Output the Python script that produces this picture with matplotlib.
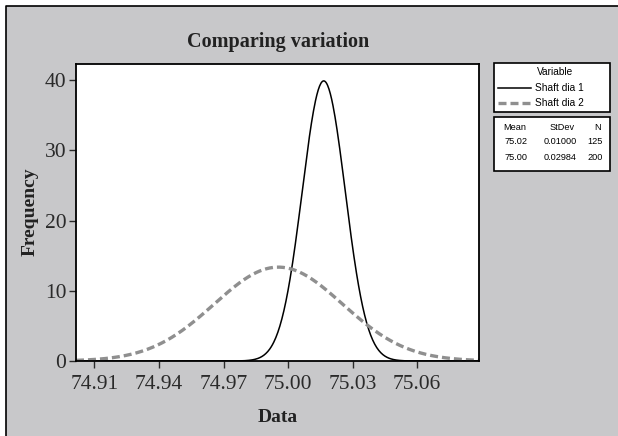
import numpy as np
import matplotlib
matplotlib.use("Agg")
import matplotlib.pyplot as plt
from matplotlib.patches import Rectangle
from matplotlib.lines import Line2D

# summary values shown in the legend table
names = ["Shaft dia 1", "Shaft dia 2"]
means = [75.0166, 74.9955]
stdevs = [0.01000, 0.02984]
counts = [125, 200]
mean_labels = ["75.02", "75.00"]
sd_labels = ["0.01000", "0.02984"]

x_ticks = [74.91, 74.94, 74.97, 75.00, 75.03, 75.06]
y_ticks = [0, 10, 20, 30, 40]

W, H = 618, 436
def fp(x, y):
    return (x / W, 1 - y / H)

fig = plt.figure(figsize=(W / 100, H / 100), dpi=100)
fig.patch.set_facecolor("white")
# gray panel, only its left and top borders are inside the picture
fig.add_artist(Rectangle(fp(6, H), (W - 6) / W, (H - 6) / H,
                         transform=fig.transFigure, facecolor="#c8c8ca",
                         edgecolor="none", zorder=-10))
fig.add_artist(Line2D([6 / W, 6 / W, 1], [0, 1 - 6 / H, 1 - 6 / H],
                      transform=fig.transFigure, color="black", lw=1.2))

ax = fig.add_axes([76 / W, 1 - 361 / H, (479 - 76) / W, (361 - 64) / H])
ax.set_facecolor("white")

xs = np.linspace(74.9014, 75.0888, 600)
styles = [dict(color="black", lw=1.1, ls="-"),
          dict(color="#8f8f8f", lw=2.4, ls=(0, (2.4, 1.2)))]
for m, s, st in zip(means, stdevs, styles):
    ys = np.exp(-0.5 * ((xs - m) / s) ** 2) / (s * np.sqrt(2 * np.pi))
    ax.plot(xs, ys, **st)

ax.set_xlim(74.9014, 75.0888)
ax.set_ylim(0, 42.3)
ax.set_xticks(x_ticks)
ax.set_xticklabels(["%.2f" % v for v in x_ticks])
ax.set_yticks(y_ticks)
for sp in ax.spines.values():
    sp.set_linewidth(1.3)
ax.tick_params(direction="out", length=5, width=1, pad=2, labelsize=15.5,
               colors="#2a2a2a")
ax.tick_params(axis="x", pad=5)
for lab in ax.get_xticklabels() + ax.get_yticklabels():
    lab.set_family("Liberation Serif")

serif = "Liberation Serif"
fig.text(*fp(278, 42), "Comparing variation", ha="center", va="center",
         family=serif, weight="bold", fontsize=14.5, color="#222222")
fig.text(*fp(278, 417), "Data", ha="center", va="center",
         family=serif, weight="bold", fontsize=14, color="#222222")
fig.text(*fp(30, 212), "Frequency", ha="center", va="center", rotation=90,
         family=serif, weight="bold", fontsize=14, color="#222222")

# legend boxes
for y0, y1 in [(63, 112), (117, 171)]:
    fig.add_artist(Rectangle(fp(494, y1), 116 / W, (y1 - y0) / H,
                             transform=fig.transFigure, facecolor="white",
                             edgecolor="black", lw=1.2))
sans = "Liberation Sans"
fs = 7.3
fig.text(*fp(555, 72), "Variable", ha="center", va="center", family=sans, fontsize=fs)
for i, (nm, st) in enumerate(zip(names, styles)):
    yy = 88 + 15 * i
    fig.add_artist(Line2D([498 / W, 531 / W], [1 - yy / H, 1 - yy / H],
                          transform=fig.transFigure, **st))
    fig.text(*fp(535, yy), nm, ha="left", va="center", family=sans, fontsize=fs)

ft = 6.6
fig.text(*fp(515, 127), "Mean", ha="center", va="center", family=sans, fontsize=ft)
fig.text(*fp(562, 127), "StDev", ha="center", va="center", family=sans, fontsize=ft)
fig.text(*fp(598, 127), "N", ha="center", va="center", family=sans, fontsize=ft)
for i in range(2):
    yy = 142 + 15 * i
    fig.text(*fp(516, yy), mean_labels[i], ha="center", va="center", family=sans, fontsize=ft)
    fig.text(*fp(560, yy), sd_labels[i], ha="center", va="center", family=sans, fontsize=ft)
    fig.text(*fp(595, yy), str(counts[i]), ha="center", va="center", family=sans, fontsize=ft)

fig.savefig("out.png", dpi=100)
